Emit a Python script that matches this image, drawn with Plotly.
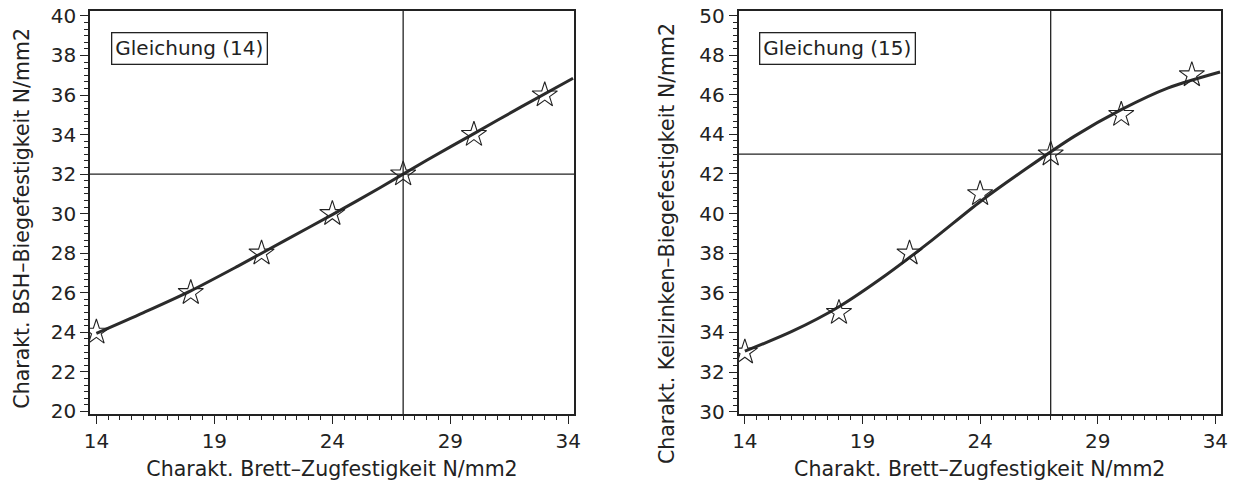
import plotly.graph_objects as go
from plotly.subplots import make_subplots

# Measured characteristic values (stars)
brett_zug = [14, 18, 21, 24, 27, 30, 33]
bsh_biege = [24, 26, 28, 30, 32, 34, 36]
keilzinken_biege = [33, 35, 38, 41, 43, 45, 47]

# Fitted curves, Gleichung (14) and Gleichung (15)
kurve_x = [14, 16, 18, 20, 22, 24, 26, 28, 30, 32, 34.2]
kurve_bsh = [23.95, 25.0, 26.1, 27.35, 28.65, 29.95, 31.3, 32.7, 34.05, 35.4, 36.85]
kurve_kz = [33.05, 34.05, 35.3, 36.9, 38.7, 40.6, 42.3, 43.9, 45.25, 46.35, 47.15]

# Reference crosshair (x, y) per panel
ref_links = (27, 32)
ref_rechts = (27, 43)

x_ticks = [14, 19, 24, 29, 34]
x_range = [13.73, 34.24]
y_range_links = [19.87, 40.25]
y_range_rechts = [29.88, 50.23]

titel_x = "Charakt. Brett–Zugfestigkeit N/mm2"
titel_y = ["Charakt. BSH–Biegefestigkeit N/mm2", "Charakt. Keilzinken–Biegefestigkeit N/mm2"]
gleichung = ["Gleichung (14)", "Gleichung (15)"]

INK = "#222222"
TICK_FONT = dict(family="DejaVu Sans", size=20, color=INK)
TITLE_FONT = dict(family="DejaVu Sans", size=20.5, color=INK)

fig = make_subplots(rows=1, cols=2)

for col, (yk, yd, ref) in enumerate(
    [(kurve_bsh, bsh_biege, ref_links), (kurve_kz, keilzinken_biege, ref_rechts)], start=1
):
    fig.add_trace(
        go.Scatter(x=kurve_x, y=yk, mode="lines",
                   line=dict(color="#2b2b2b", width=3, shape="spline", smoothing=0.8),
                   showlegend=False, hoverinfo="skip"),
        row=1, col=col,
    )
    fig.add_trace(
        go.Scatter(x=brett_zug, y=yd, mode="markers",
                   marker=dict(symbol="star-open", size=19, color=INK, line=dict(width=1.1)),
                   showlegend=False),
        row=1, col=col,
    )
    fig.add_vline(x=ref[0], line=dict(color=INK, width=1.3), row=1, col=col)
    fig.add_hline(y=ref[1], line=dict(color=INK, width=1.3), row=1, col=col)

axis_common = dict(
    showline=True, linecolor=INK, linewidth=1.5, mirror=True,
    ticks="outside", ticklen=8, tickwidth=1.3, tickcolor=INK,
    showgrid=False, zeroline=False, tickfont=TICK_FONT,
    title_font=TITLE_FONT, automargin=False,
)

fig.update_xaxes(axis_common)
fig.update_yaxes(axis_common)

fig.update_xaxes(range=x_range, tickvals=x_ticks, title_text=titel_x,
                 minor=dict(dtick=0.5, tick0=14, ticklen=4, tickcolor=INK, ticks="outside"),
                 title_standoff=14)
fig.update_yaxes(dtick=2, minor=dict(dtick=1 / 3, ticklen=4, tickcolor=INK, ticks="outside"))

fig.update_xaxes(domain=[0.0, 0.42794], row=1, col=1)
fig.update_xaxes(domain=[0.57339, 1.0], row=1, col=2)
fig.update_yaxes(range=y_range_links, tick0=20, row=1, col=1)
fig.update_yaxes(range=y_range_rechts, tick0=30, row=1, col=2)

# Vertical axis titles, placed beside each panel
for txt, xpos, ypos in zip(titel_y, [-0.0602, 0.5102], [0.487, 0.4218]):
    fig.add_annotation(
        text=txt, xref="paper", yref="paper", x=xpos, y=ypos,
        xanchor="center", yanchor="middle", textangle=-90, showarrow=False,
        font=TITLE_FONT,
    )

for txt, ax in zip(gleichung, ["", "2"]):
    fig.add_annotation(
        text=txt, xref=f"x{ax} domain", yref=f"y{ax} domain",
        x=0.0425, y=0.947, xanchor="left", yanchor="top", showarrow=False,
        font=TICK_FONT, bordercolor=INK, borderwidth=1.3, borderpad=3, bgcolor="white",
    )

fig.update_layout(
    width=1240, height=481,
    margin=dict(l=90, r=19, t=11, b=67),
    paper_bgcolor="white", plot_bgcolor="white",
    font=TICK_FONT,
)

fig.write_html("out.html")
